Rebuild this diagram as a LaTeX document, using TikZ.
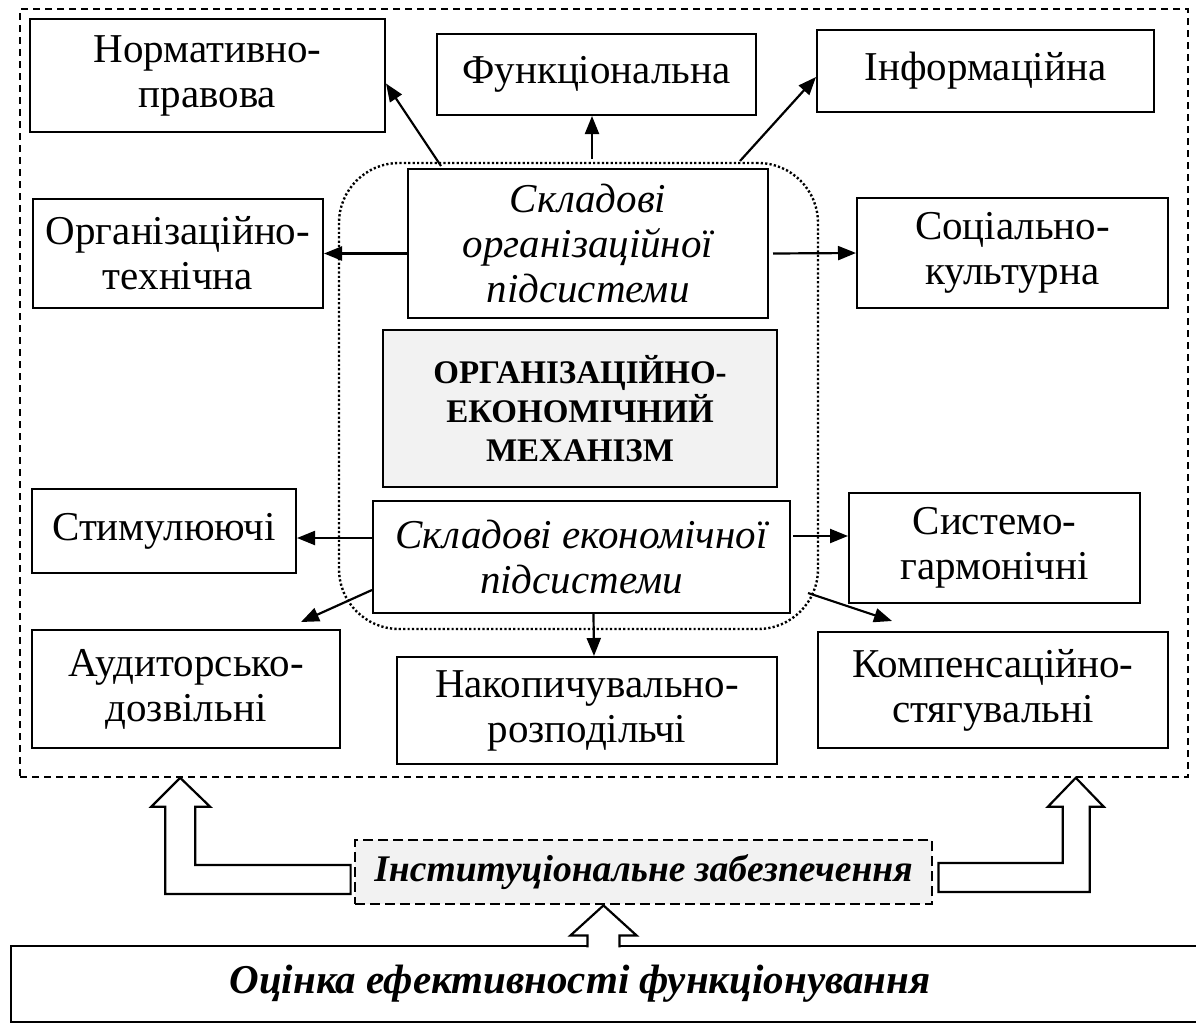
\documentclass[tikz,border=0pt]{standalone}
\usepackage{fontspec}
\setmainfont{Liberation Serif}
\usetikzlibrary{arrows.meta,calc}
\definecolor{mechfill}{HTML}{F2F2F2}
\newcommand{\boxfont}{\fontsize{20.5}{22.5}\selectfont}
\newcommand{\mechfont}{\fontsize{16.5}{19.5}\selectfont\bfseries}

\begin{document}
\begin{tikzpicture}[x=0.5pt, y=-0.5pt,
  box/.style={draw, line width=1pt, fill=white, align=center, inner sep=0pt, font=\boxfont},
  wh/.style 2 args={minimum width=#1*0.5pt, minimum height=#2*0.5pt},
  arr/.style={-{Triangle[length=9pt,width=7pt]}, line width=1.1pt},
  hollow/.style={line width=1.1pt, line join=miter}]
  \useasboundingbox (0,0) rectangle (1196,1023);

  % outer frame and the dotted core
  \node[draw, line width=0.8pt, dash pattern=on 3.5pt off 2.5pt, wh={1168}{768}] (frame) at (604,393) {};
  \node[draw, line width=1.2pt, dash pattern=on 1.1pt off 1.1pt, rounded corners=30pt, wh={479}{466}] (core) at (578.5,396) {};

  % organisational subsystem
  \node[box, wh={355}{113}] (norm) at (207.5,75.5) {Нормативно-\\правова};
  \node[box, wh={319}{81}] (func) at (596.5,74.5) {Функціональна};
  \node[box, wh={337}{82}] (inform) at (985.5,71) {Інформаційна};
  \node[box, wh={290}{109}] (orgtech) at (178,253.5) {Організаційно-\\технічна};
  \node[box, wh={311}{110}] (social) at (1012.5,253) {Соціально-\\культурна};
  \node[box, wh={360}{149}, font=\boxfont\itshape] (orgsub) at (588,243.5) {Складові\\організаційної\\підсистеми};

  % mechanism
  \node[box, fill=mechfill, wh={394}{157}, font=\mechfont] (mech) at (580,408.5) {ОРГАНІЗАЦІЙНО-\\ЕКОНОМІЧНИЙ\\МЕХАНІЗМ};

  % economic subsystem
  \node[box, wh={417}{112}, font=\boxfont\itshape] (econ) at (581.5,557) {Складові економічної\\підсистеми};
  \node[box, wh={264}{84}] (stim) at (164,531) {Стимулюючі};
  \node[box, wh={291}{110}] (syst) at (994.5,548) {Системо-\\гармонічні};
  \node[box, wh={308}{118}] (audit) at (186,689) {Аудиторсько-\\дозвільні};
  \node[box, wh={380}{107}] (accum) at (587,710.5) {Накопичувально-\\розподільчі};
  \node[box, wh={350}{116}] (comp) at (993,690) {Компенсаційно-\\стягувальні};

  % arrows out of the subsystems
  \draw[arr] ($(orgsub.north west)+(34,-2)$) -- ($(norm.east)+(0,8)$);
  \draw[arr] ($(orgsub.north)+(4,-9)$) -- ($(func.south)+(-4.5,0)$);
  \draw[arr] ($(orgsub.north east)+(-29,-7)$) -- ($(inform.west)+(0,6)$);
  \draw[arr] ($(orgsub.west)+(0,10)$) -- (orgtech.east);
  \draw[arr] ($(orgsub.east)+(4,10)$) -- (social.west);
  \draw[arr] ($(econ.west)+(0,-19)$) -- ($(stim.east)+(0,7)$);
  \draw[arr] ($(econ.east)+(2,-21)$) -- ($(syst.west)+(0,-12)$);
  \draw[arr] ($(econ.west)+(0,33)$) -- ($(audit.north east)+(-40,-7)$);
  \draw[arr] ($(econ.east)+(17,36)$) -- ($(comp.north west)+(75,-10)$);
  \draw[arr] ($(econ.south)+(12,0)$) -- ($(accum.north)+(7,0)$);

  % institutional support and evaluation
  \node[box, fill=mechfill, line width=1.4pt, dash pattern=on 5pt off 2.5pt, wh={577}{64}, font=\fontsize{18.8}{21}\selectfont\bfseries\itshape] (inst) at (643.5,872) {Інституціональне забезпечення};
  \node[box, wh={1206}{76}] (eval) at (614,984) {};
  \node[font=\boxfont\bfseries\itshape, inner sep=0pt] (evaltitle) at ($(eval.center)+(-34,0)$) {Оцінка ефективності функціонування};

  \coordinate (lt) at ($(frame.south west)+(161,0)$);
  \coordinate (rt) at ($(frame.south east)+(-113,0)$);
  \coordinate (bt) at ($(inst.south)+(-40,0)$);

  % hollow arrows
  \draw[hollow, fill=white] ($(inst.west)+(-3,-7)$) -| ($(lt)+(15,29)$) -- ++(15,0) -- (lt) -- ++(-29,29) -- ++(14,0) |- ($(inst.west)+(-3,22)$) -- cycle;
  \draw[hollow, fill=white] ($(inst.east)+(5,-9)$) -| ($(rt)+(-13,29)$) -- ++(-15,0) -- (rt) -- ++(28,29) -- ++(-14,0) |- ($(inst.east)+(5,20)$) -- cycle;
  \fill[white] (bt) -- ++(33,30) -- ++(-17,0) -- ++(0,14) -- ++(-32,0) -- ++(0,-14) -- ++(-17,0) -- cycle;
  \draw[hollow] ($(bt)+(16,42)$) -- ++(0,-12) -- ++(17,0) -- (bt) -- ++(-33,30) -- ++(17,0) -- ++(0,12);
\end{tikzpicture}
\end{document}
